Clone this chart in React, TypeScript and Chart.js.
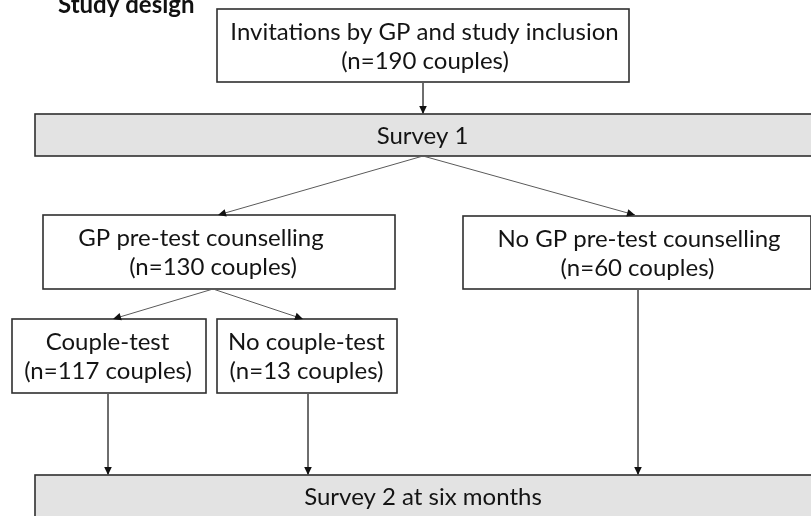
import React, { useEffect, useRef } from "react";
import { Chart, registerables } from "chart.js";

Chart.register(...registerables);

// ---- content ----
const titleText = "Study design";

const nodeLines: string[][] = [
  ["Invitations by GP and study inclusion", "(n=190 couples)"],
  ["Survey 1"],
  ["GP pre-test counselling", "(n=130 couples)"],
  ["No GP pre-test counselling", "(n=60 couples)"],
  ["Couple-test", "(n=117 couples)"],
  ["No couple-test", "(n=13 couples)"],
  ["Survey 2 at six months"],
];

// ---- layout (in the chart's own x / y value space) ----
const nodeLeft = [217, 35, 43, 463, 12, 217, 35];
const nodeRight = [629, 815, 395, 811, 206, 397, 815];
const nodeTop = [9, 114, 215, 216, 319, 319, 475];
const nodeBottom = [82, 156, 289, 289, 393, 393, 517];
const nodeShaded = [false, true, false, false, false, false, true];
const lineCenters: number[][] = [
  [424.5, 425],
  [422.5],
  [201, 213],
  [639, 637.5],
  [107.5, 108],
  [306.5, 306.5],
  [423],
];

const edgeFromX = [423, 423, 423, 213, 213, 108, 308, 638];
const edgeFromY = [82, 156, 156, 289, 289, 393, 393, 289];
const edgeToX = [423, 218, 635, 113, 303, 108, 308, 638];
const edgeToY = [114, 215, 215, 319, 319, 475, 475, 475];

const FONT = "Lato, 'Open Sans', sans-serif";

const flowPlugin = {
  id: "flowchart",
  beforeDatasetsDraw(chart: any) {
    const { ctx, scales } = chart;
    const xs = scales.x;
    const ys = scales.y;
    ctx.save();
    // boxes
    for (let i = 0; i < nodeLines.length; i++) {
      const l = xs.getPixelForValue(nodeLeft[i]);
      const r = xs.getPixelForValue(nodeRight[i]);
      const t = ys.getPixelForValue(nodeTop[i]);
      const b = ys.getPixelForValue(nodeBottom[i]);
      ctx.fillStyle = nodeShaded[i] ? "#e3e3e3" : "#ffffff";
      ctx.fillRect(l, t, r - l, b - t);
      ctx.lineWidth = 1.6;
      ctx.strokeStyle = "#2f2f2f";
      ctx.strokeRect(l, t, r - l, b - t);
      // text
      const lines = nodeLines[i];
      const cy = (t + b) / 2;
      ctx.font = `24px ${FONT}`;
      ctx.fillStyle = "#141414";
      ctx.textAlign = "center";
      ctx.textBaseline = "alphabetic";
      const n = lines.length;
      for (let k = 0; k < n; k++) {
        const y = cy + 8.5 + (k - (n - 1) / 2) * 29;
        ctx.fillText(lines[k], xs.getPixelForValue(lineCenters[i][k]), y);
      }
    }
    // title
    ctx.font = `bold 24px ${FONT}`;
    ctx.fillStyle = "#111111";
    ctx.textAlign = "left";
    ctx.fillText(titleText, xs.getPixelForValue(58), ys.getPixelForValue(13));
    ctx.restore();
  },
  afterDatasetsDraw(chart: any) {
    const { ctx, scales } = chart;
    const xs = scales.x;
    const ys = scales.y;
    ctx.save();
    ctx.fillStyle = "#111111";
    for (let i = 0; i < edgeToX.length; i++) {
      const x0 = xs.getPixelForValue(edgeFromX[i]);
      const y0 = ys.getPixelForValue(edgeFromY[i]);
      const x1 = xs.getPixelForValue(edgeToX[i]);
      const y1 = ys.getPixelForValue(edgeToY[i]);
      const a = Math.atan2(y1 - y0, x1 - x0);
      const len = 8;
      const hw = 3.8;
      const bx = x1 - len * Math.cos(a);
      const by = y1 - len * Math.sin(a);
      ctx.beginPath();
      ctx.moveTo(x1, y1);
      ctx.lineTo(bx + hw * Math.sin(a), by - hw * Math.cos(a));
      ctx.lineTo(bx - hw * Math.sin(a), by + hw * Math.cos(a));
      ctx.closePath();
      ctx.fill();
    }
    ctx.restore();
  },
};

export default function App() {
  const ref = useRef<HTMLCanvasElement | null>(null);
  useEffect(() => {
    if (!ref.current) return;
    const datasets = edgeToX.map((_, i) => ({
      label: `edge${i}`,
      data: [
        { x: edgeFromX[i], y: edgeFromY[i] },
        { x: edgeToX[i], y: edgeToY[i] },
      ],
      showLine: true,
      borderColor: "#5a5a5a",
      borderWidth: 1,
      pointRadius: 0,
      pointHoverRadius: 0,
      fill: false,
    }));
    const chart = new Chart(ref.current, {
      type: "scatter",
      data: { datasets },
      options: {
        animation: false,
        responsive: true,
        maintainAspectRatio: false,
        layout: { padding: 0 },
        plugins: { legend: { display: false }, tooltip: { enabled: false }, title: { display: false } },
        events: [],
        scales: {
          x: { type: "linear", min: 0, max: 811, display: false },
          y: { type: "linear", min: 0, max: 516, reverse: true, display: false },
        },
      },
      plugins: [flowPlugin],
    });
    return () => chart.destroy();
  }, []);
  return (
    <div style={{ position: "fixed", left: 0, top: 0, width: 811, height: 516, background: "#ffffff" }}>
      <canvas ref={ref} />
    </div>
  );
}
